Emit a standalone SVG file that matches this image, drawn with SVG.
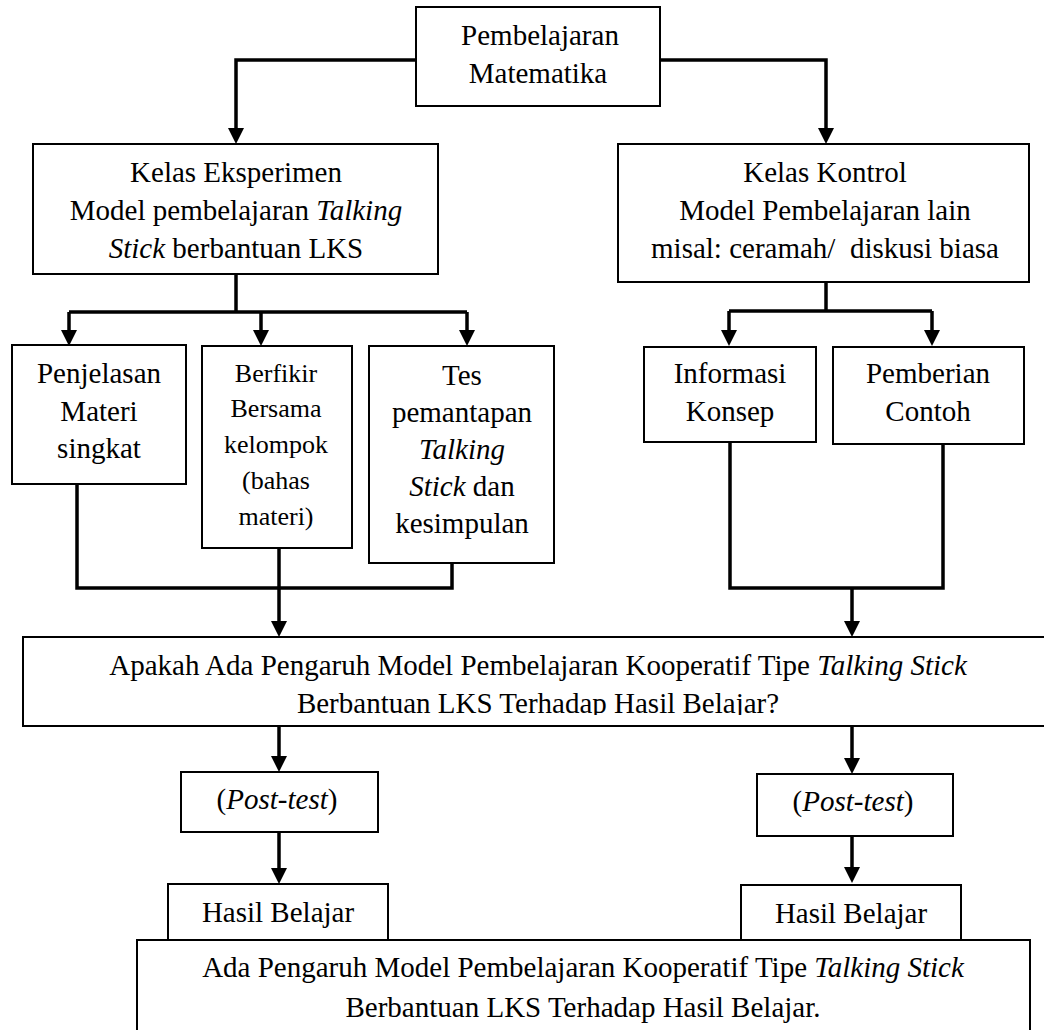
<svg xmlns="http://www.w3.org/2000/svg" width="1044" height="1030" viewBox="0 0 1044 1030">
<style>
text{font-family:'Liberation Serif','DejaVu Serif',serif;font-size:29px;fill:#000;text-anchor:middle}
.box{fill:#fff;stroke:#000;stroke-width:2}
.s{font-size:26px}
.i{font-style:italic}
.c{fill:none;stroke:#000;stroke-width:3.5;stroke-linejoin:miter}
.pre{white-space:pre}
</style>
<defs>
<marker id="ah" markerUnits="userSpaceOnUse" markerWidth="16" markerHeight="16" refX="6" refY="8" orient="auto">
<path d="M0,0 L16,8 L0,16 Z" fill="#000"/>
</marker>
<clipPath id="qclip"><rect x="0" y="637" width="1044" height="78"/></clipPath>
</defs>
<rect width="1044" height="1030" fill="#fff"/>

<g id="connectors">
<polyline class="c" points="416,60 236,60 236,134" marker-end="url(#ah)"/>
<polyline class="c" points="660,60 826,60 826,134" marker-end="url(#ah)"/>
<polyline class="c" points="236,274 236,312"/>
<polyline class="c" points="69,312 467,312"/>
<polyline class="c" points="69,312 69,336" marker-end="url(#ah)"/>
<polyline class="c" points="261,312 261,336" marker-end="url(#ah)"/>
<polyline class="c" points="467,312 467,336" marker-end="url(#ah)"/>
<polyline class="c" points="826,282 826,311"/>
<polyline class="c" points="729,311 932,311"/>
<polyline class="c" points="729,311 729,336" marker-end="url(#ah)"/>
<polyline class="c" points="932,311 932,336" marker-end="url(#ah)"/>
<polyline class="c" points="77,484 77,588 452,588 452,563"/>
<polyline class="c" points="279,548 279,627" marker-end="url(#ah)"/>
<polyline class="c" points="730,442 730,588 943,588 943,444"/>
<polyline class="c" points="852,588 852,627" marker-end="url(#ah)"/>
<polyline class="c" points="279,726 279,762" marker-end="url(#ah)"/>
<polyline class="c" points="852,726 852,764" marker-end="url(#ah)"/>
<polyline class="c" points="279,832 279,874" marker-end="url(#ah)"/>
<polyline class="c" points="852,836 852,873" marker-end="url(#ah)"/>
</g>

<g id="n-top">
<rect class="box" x="416" y="7" width="244" height="99"/>
<text x="540" y="45" font-family="Liberation Serif">Pembelajaran</text>
<text x="538" y="83" font-family="Liberation Serif">Matematika</text>
</g>

<g id="n-eksperimen">
<rect class="box" x="33" y="144" width="405" height="130"/>
<text x="236" y="182">Kelas Eksperimen</text>
<text x="236" y="220">Model pembelajaran <tspan class="i">Talking</tspan></text>
<text x="236" y="258"><tspan class="i">Stick</tspan> berbantuan LKS</text>
</g>

<g id="n-kontrol">
<rect class="box" x="618" y="144" width="411" height="138"/>
<text x="825" y="182">Kelas Kontrol</text>
<text x="825" y="220">Model Pembelajaran lain</text>
<text class="pre" x="825" y="258">misal: ceramah/  diskusi biasa</text>
</g>

<g id="n-penjelasan">
<rect class="box" x="12" y="345" width="174" height="139"/>
<text x="99" y="383">Penjelasan</text>
<text x="99" y="421">Materi</text>
<text x="99" y="458">singkat</text>
</g>

<g id="n-berfikir">
<rect class="box" x="202" y="346" width="150" height="202"/>
<text class="s" x="276" y="382">Berfikir</text>
<text class="s" x="276" y="417">Bersama</text>
<text class="s" x="276" y="453">kelompok</text>
<text class="s" x="276" y="489">(bahas</text>
<text class="s" x="276" y="525">materi)</text>
</g>

<g id="n-tes">
<rect class="box" x="369" y="346" width="185" height="217"/>
<text x="462" y="385">Tes</text>
<text x="462" y="422">pemantapan</text>
<text class="i" x="462" y="459">Talking</text>
<text x="462" y="496"><tspan class="i">Stick</tspan> dan</text>
<text x="462" y="533">kesimpulan</text>
</g>

<g id="n-informasi">
<rect class="box" x="644" y="347" width="172" height="95"/>
<text x="730" y="383">Informasi</text>
<text x="730" y="421">Konsep</text>
</g>

<g id="n-pemberian">
<rect class="box" x="833" y="347" width="191" height="97"/>
<text x="928" y="383">Pemberian</text>
<text x="928" y="421">Contoh</text>
</g>

<g id="n-question">
<rect class="box" x="23" y="637" width="1030" height="89"/>
<text x="538" y="675">Apakah Ada Pengaruh Model Pembelajaran Kooperatif Tipe <tspan class="i">Talking Stick</tspan></text>
<text x="538" y="713" clip-path="url(#qclip)">Berbantuan LKS Terhadap Hasil Belajar?</text>
</g>

<g id="n-posttest-left">
<rect class="box" x="181" y="772" width="197" height="60"/>
<text x="277" y="809">(<tspan class="i">Post-test</tspan>)</text>
</g>

<g id="n-posttest-right">
<rect class="box" x="757" y="774" width="196" height="62"/>
<text x="853" y="811">(<tspan class="i">Post-test</tspan>)</text>
</g>

<g id="n-final">
<rect class="box" x="137" y="940" width="893" height="110"/>
<text x="583" y="977">Ada Pengaruh Model Pembelajaran Kooperatif Tipe <tspan class="i">Talking Stick</tspan></text>
<text x="583" y="1017">Berbantuan LKS Terhadap Hasil Belajar.</text>
</g>

<g id="n-hasil-left">
<rect class="box" x="168" y="884" width="220" height="56"/>
<text x="278" y="922">Hasil Belajar</text>
</g>

<g id="n-hasil-right">
<rect class="box" x="741" y="885" width="220" height="55"/>
<text x="851" y="923">Hasil Belajar</text>
</g>
</svg>
